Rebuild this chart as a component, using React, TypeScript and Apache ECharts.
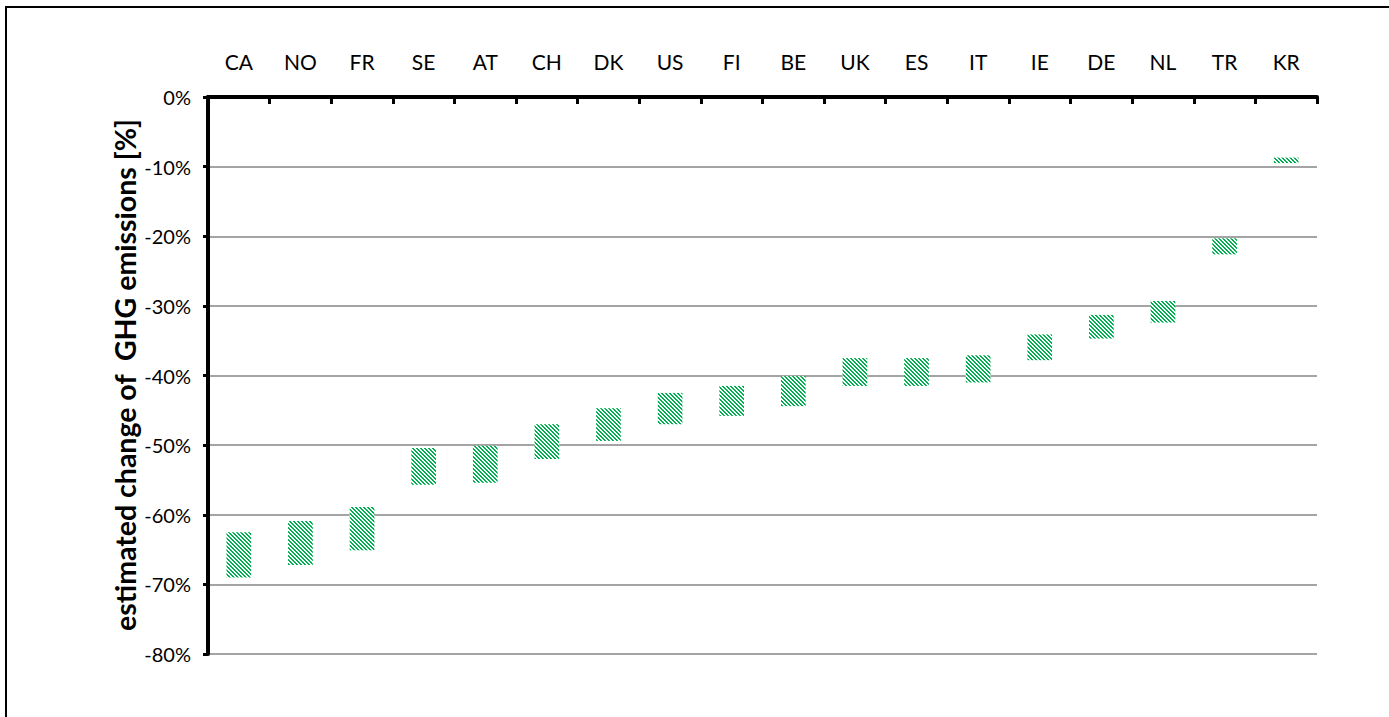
import React, { useEffect, useRef } from "react";
import * as echarts from "echarts";

const categories = ["CA", "NO", "FR", "SE", "AT", "CH", "DK", "US", "FI", "BE", "UK", "ES", "IT", "IE", "DE", "NL", "TR", "KR"];
// upper end (less negative) of each estimated range, in %
const upperValues = [-62.5, -60.9, -58.9, -50.4, -50.1, -47.0, -44.7, -42.5, -41.5, -40.1, -37.5, -37.5, -37.1, -34.1, -31.3, -29.3, -20.3, -8.7];
// lower end (more negative) of each estimated range, in %
const lowerValues = [-69.0, -67.2, -65.1, -55.7, -55.4, -52.0, -49.4, -47.0, -45.8, -44.4, -41.5, -41.5, -41.0, -37.8, -34.7, -32.4, -22.6, -9.5];
const yTicks = { min: -80, max: 0, interval: 10 };
const yTitle = "estimated change of  GHG emissions [%]";

function makeHatch(): HTMLCanvasElement {
  const c = document.createElement("canvas");
  c.width = 8;
  c.height = 8;
  const ctx = c.getContext("2d")!;
  ctx.fillStyle = "#ffffff";
  ctx.fillRect(0, 0, 8, 8);
  ctx.fillStyle = "#00b050";
  for (let y = 0; y < 8; y++) {
    for (let x = 0; x < 8; x++) {
      const d = (((x - y) % 4) + 4) % 4;
      if (d === 0 || d === 1) ctx.fillRect(x, y, 1, 1);
    }
  }
  return c;
}

export default function App() {
  const ref = useRef<HTMLDivElement>(null);
  useEffect(() => {
    if (!ref.current) return;
    const chart = echarts.init(ref.current, null, { renderer: "svg" });
    const hatch = makeHatch();
    const font = "Lato, 'Open Sans', sans-serif";
    chart.setOption({
      animation: false,
      backgroundColor: "#ffffff",
      grid: { left: 208, right: 72, top: 97, bottom: 63, containLabel: false },
      xAxis: {
        type: "category",
        position: "top",
        data: categories,
        boundaryGap: true,
        axisLine: { show: true, lineStyle: { color: "#000", width: 4 } },
        axisTick: { show: true, inside: true, length: 7, lineStyle: { color: "#000", width: 3 } },
        axisLabel: { color: "#000", fontSize: 21, fontFamily: font, margin: 25.5, interval: 0 },
        splitLine: { show: false },
      },
      yAxis: {
        type: "value",
        min: yTicks.min,
        max: yTicks.max,
        interval: yTicks.interval,
        axisLine: { show: true, lineStyle: { color: "#000", width: 4 } },
        axisTick: { show: true, inside: false, length: 5, lineStyle: { color: "#000", width: 3 } },
        axisLabel: {
          color: "#000",
          fontSize: 20,
          fontFamily: font,
          margin: 17,
          formatter: (v: number) => `${v}%`,
        },
        splitLine: { show: true, lineStyle: { color: "#868686", width: 1.5 } },
      },
      series: [
        {
          type: "bar",
          stack: "range",
          barWidth: "40%",
          data: upperValues,
          itemStyle: { color: "transparent" },
          silent: true,
        },
        {
          type: "bar",
          stack: "range",
          barWidth: "40%",
          data: lowerValues.map((v, i) => +(v - upperValues[i]).toFixed(2)),
          itemStyle: { color: { image: hatch, repeat: "repeat" } },
        },
      ],
      graphic: [
        { type: "line", shape: { x1: 6, y1: 7, x2: 1389, y2: 7 }, style: { stroke: "#000", lineWidth: 2 } },
        { type: "line", shape: { x1: 6, y1: 6, x2: 6, y2: 717 }, style: { stroke: "#000", lineWidth: 2 } },
        {
          type: "text",
          x: 125,
          y: 375,
          rotation: Math.PI / 2,
          style: {
            text: yTitle,
            fontSize: 28.5,
            fontWeight: "bold",
            fontFamily: font,
            fill: "#000",
            align: "center",
            verticalAlign: "middle",
          },
        },
      ],
    });
    return () => chart.dispose();
  }, []);
  return (
    <div
      ref={ref}
      style={{ position: "absolute", left: 0, top: 0, width: 1389, height: 717, background: "#fff" }}
    />
  );
}
